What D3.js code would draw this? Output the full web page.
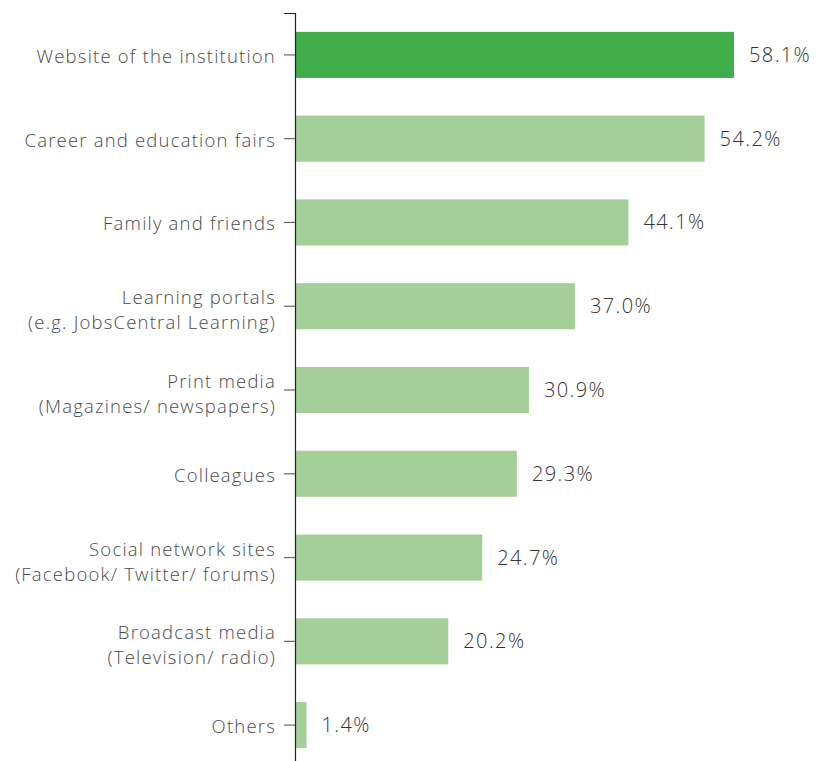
<!DOCTYPE html>
<html>
<head>
<meta charset="utf-8">
<script src="https://cdn.jsdelivr.net/npm/d3@7/dist/d3.min.js"></script>
<style>
  html, body { margin: 0; padding: 0; background: #fff; }
  svg { display: block; }
  text { font-family: "Open Sans", "DejaVu Sans", sans-serif; font-weight: 300; }
</style>
</head>
<body>
<svg id="chart" width="816" height="761"></svg>
<script>
// Sources of information on courses (share of respondents)
const categories = [
  ["Website of the institution"],
  ["Career and education fairs"],
  ["Family and friends"],
  ["Learning portals", "(e.g. JobsCentral Learning)"],
  ["Print media", "(Magazines/ newspapers)"],
  ["Colleagues"],
  ["Social network sites", "(Facebook/ Twitter/ forums)"],
  ["Broadcast media", "(Television/ radio)"],
  ["Others"]
];
const values = [58.1, 54.2, 44.1, 37.0, 30.9, 29.3, 24.7, 20.2, 1.4];
const highlightIndex = 0;

const svg = d3.select("#chart");
const axisX = 295;

const y = d3.scaleBand()
  .domain(d3.range(categories.length))
  .range([13, 767])
  .paddingInner(0.45)
  .paddingOuter(0.225);

const x = d3.scaleLinear()
  .domain([0, 58.1])
  .range([axisX + 1, 734]);

// bars
svg.append("g")
  .selectAll("rect")
  .data(values)
  .join("rect")
  .attr("x", x(0))
  .attr("y", (d, i) => y(i))
  .attr("width", d => x(d) - x(0))
  .attr("height", y.bandwidth())
  .attr("fill", (d, i) => i === highlightIndex ? "#41ad4a" : "#a4cf99");

// value labels
svg.append("g")
  .selectAll("text")
  .data(values)
  .join("text")
  .attr("x", d => x(d) + 15)
  .attr("y", (d, i) => y(i) + y.bandwidth() / 2 + 7)
  .attr("font-size", 20)
  .attr("letter-spacing", 1.4)
  .attr("fill", "#333")
  .text(d => d.toFixed(1) + "%");

// category axis
const axis = d3.axisLeft(y)
  .tickSize(11)
  .tickSizeOuter(11)
  .tickPadding(8)
  .tickFormat("");

const g = svg.append("g")
  .attr("transform", `translate(${axisX},0)`)
  .call(axis);
g.select(".domain").attr("stroke", "#222").attr("stroke-width", 1.2);
g.selectAll(".tick line").attr("stroke", "#666").attr("stroke-width", 1.2);

// category labels: single lines sit on the bar centre,
// two-line labels hang their first line at the tick
const lineH = 25;
svg.append("g")
  .selectAll("text")
  .data(categories)
  .join("text")
  .attr("text-anchor", "end")
  .attr("font-size", 18.5)
  .attr("letter-spacing", 1.2)
  .attr("fill", "#4a4a4a")
  .attr("transform", (d, i) => `translate(${axisX - 19},${y(i) + y.bandwidth() / 2})`)
  .each(function(lines) {
    const t = d3.select(this);
    const first = lines.length > 1 ? -2 : 8;
    lines.forEach((ln, k) => {
      t.append("tspan")
        .attr("x", 0)
        .attr("y", first + k * lineH)
        .text(ln);
    });
  });
</script>
</body>
</html>
